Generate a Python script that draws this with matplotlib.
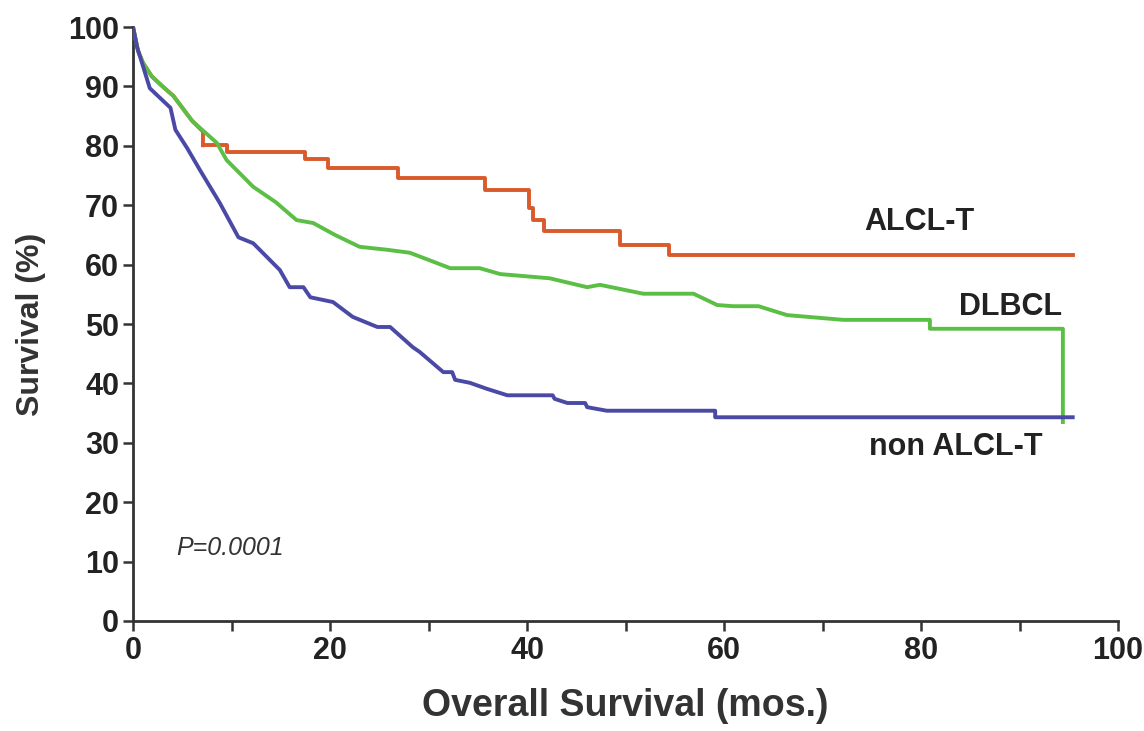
import matplotlib
matplotlib.use("Agg")
import matplotlib.pyplot as plt

# ALCL-T: early part (hidden under the other curves) and step part
alcl_early_t = [0, 0.5, 1.0, 1.9, 3.0, 4.1, 6.0, 7.1, 7.1]
alcl_early_s = [100, 96, 94, 91.7, 90, 88.4, 84.2, 82.4, 80.1]
alcl_t = [7.1, 9.5, 17.5, 19.8, 26.9, 35.7, 40.2, 40.6, 41.7, 49.4, 54.4, 95.4]
alcl_s = [80.1, 79.0, 77.8, 76.3, 74.6, 72.6, 69.5, 67.5, 65.7, 63.3, 61.6, 61.6]

# DLBCL
dlbcl_t = [0, 0.5, 1.0, 1.9, 3.0, 4.1, 6.0, 8.5, 9.5, 12.2, 14.5, 16.6, 18.3, 20.5, 23.0, 25.8, 28.1, 30.0,
           32.2, 35.2, 37.3, 42.3, 46.1, 47.4, 51.8, 56.9, 59.3, 60.9, 63.5, 66.4, 72.1, 80.9, 80.9, 94.4, 94.4]
dlbcl_s = [100, 96, 94, 91.7, 90, 88.4, 84.2, 80.5, 77.6, 73.1, 70.5, 67.5, 67.0, 65.0, 63.0, 62.5, 62.0, 60.8,
           59.4, 59.4, 58.4, 57.7, 56.2, 56.6, 55.1, 55.1, 53.2, 53.0, 53.0, 51.5, 50.7, 50.7, 49.2, 49.2, 33.5]

# non ALCL-T
non_t = [0, 0.4, 0.9, 1.7, 3.8, 4.3, 5.5, 6.8, 8.8, 10.7, 12.2, 14.9, 15.9, 17.3, 18.0, 20.3, 22.3, 24.8, 26.1,
         28.4, 29.1, 31.5, 32.4, 32.7, 34.2, 35.9, 38.0, 42.6, 42.8, 44.1, 45.9, 46.1, 48.1, 59.1, 59.1, 95.4]
non_s = [100, 96.7, 94, 89.7, 86.4, 82.7, 79.6, 75.9, 70.4, 64.6, 63.6, 59.1, 56.2, 56.2, 54.5, 53.7, 51.2, 49.5, 49.5,
         46.1, 45.3, 41.9, 41.9, 40.6, 40.1, 39.1, 38.0, 38.0, 37.4, 36.7, 36.7, 36.0, 35.4, 35.4, 34.3, 34.3]

x_ticks = [0, 20, 40, 60, 80, 100]
y_ticks = [0, 10, 20, 30, 40, 50, 60, 70, 80, 90, 100]

RED = "#D95A2B"
GREEN = "#5CBF45"
BLUE = "#4A4AA6"
AX = "#333333"

plt.rcParams['font.family'] = ['Liberation Sans', 'DejaVu Sans']

fig = plt.figure(figsize=(11.44, 7.31), dpi=100)
ax = fig.add_axes([0.1163, 0.1505, 0.8610, 0.8125])

LW = 2.8
ax.plot(alcl_early_t, alcl_early_s, color=RED, lw=LW, zorder=2)
ax.plot(alcl_t, alcl_s, color=RED, lw=LW, drawstyle='steps-post', zorder=2)
ax.plot(dlbcl_t, dlbcl_s, color=GREEN, lw=LW, zorder=3)
ax.plot(non_t, non_s, color=BLUE, lw=LW, zorder=4)

ax.set_xlim(0, 100)
ax.set_ylim(0, 100)
for s in ['top', 'right']:
    ax.spines[s].set_visible(False)
for s in ['left', 'bottom']:
    ax.spines[s].set_linewidth(2.0)
    ax.spines[s].set_color(AX)

ax.set_xticks(x_ticks)
ax.set_xticks(range(0, 101, 10), minor=True)
ax.set_yticks(y_ticks)
ax.tick_params(axis='both', which='both', direction='out', length=7, width=1.8, color=AX)
ax.tick_params(axis='both', labelsize=22, labelcolor='#222222')
ax.tick_params(axis='y', pad=3)
for lab in ax.get_xticklabels() + ax.get_yticklabels():
    lab.set_fontweight('bold')

ax.set_xlabel('Overall Survival (mos.)', fontsize=27, fontweight='bold', color='#333333', labelpad=16)
ax.set_ylabel('Survival (%)', fontsize=23, fontweight='bold', color='#333333', labelpad=16)

ax.text(79.8, 67.2, 'ALCL-T', fontsize=22, fontweight='bold', color='#222222', ha='center', va='center')
ax.text(89.1, 52.9, 'DLBCL', fontsize=22, fontweight='bold', color='#222222', ha='center', va='center')
ax.text(83.5, 29.3, 'non ALCL-T', fontsize=22, fontweight='bold', color='#222222', ha='center', va='center')
ax.text(4.4, 12.3, 'P=0.0001', fontsize=18, fontstyle='italic', color='#333333', ha='left', va='center')

fig.savefig('out.png', dpi=100, facecolor='white')
